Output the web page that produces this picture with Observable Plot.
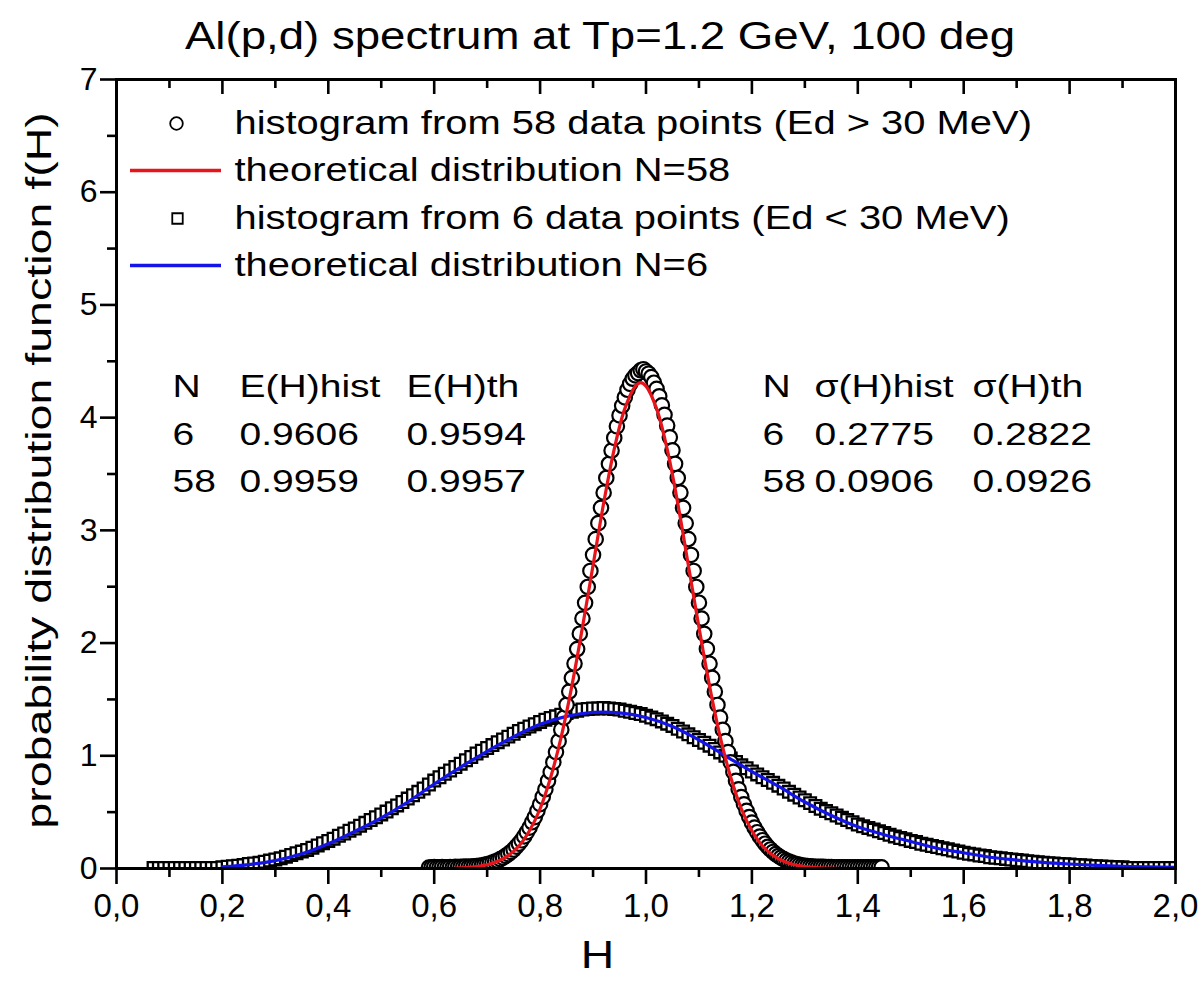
<!DOCTYPE html>
<html>
<head>
<meta charset="utf-8">
<script src="https://cdn.jsdelivr.net/npm/d3@7"></script>
<script src="https://cdn.jsdelivr.net/npm/@observablehq/plot@0.6"></script>
<style>
  html, body { margin: 0; padding: 0; background: #fff; overflow: hidden; }
  #wrap { position: relative; width: 1201px; height: 983px; background: #fff; }
  #title { position: absolute; left: 0; top: 0; width: 1201px; height: 66px; }
  #title span { position: absolute; left: 600px; top: 17px; line-height: 38px; white-space: nowrap;
    font-family: "Liberation Sans", Arial, sans-serif; font-size: 38px; color: #000;
    transform: translateX(-50%) scaleX(1.2); transform-origin: 50% 50%; }
  #chart { position: absolute; left: 0; top: 66px; }
</style>
</head>
<body>
<div id="wrap">
  <div id="title"><span id="titleSpan"></span></div>
  <div id="chart"></div>
</div>
<script>
// ---------- data ----------
// histogram N=58 (circles)
const circH = [0.590,0.595,0.600,0.605,0.610,0.615,0.620,0.625,0.630,0.635,0.640,0.645,0.650,0.655,0.660,0.665,0.670,0.675,0.680,0.685,
0.690,0.695,0.700,0.705,0.710,0.715,0.720,0.725,0.730,0.735,0.740,0.745,0.750,0.755,0.760,0.765,0.770,0.775,0.780,0.785,
0.790,0.795,0.800,0.805,0.810,0.815,0.820,0.825,0.830,0.835,0.840,0.845,0.850,0.855,0.860,0.865,0.870,0.875,0.880,0.885,
0.890,0.895,0.900,0.905,0.910,0.915,0.920,0.925,0.930,0.935,0.940,0.945,0.950,0.955,0.960,0.965,0.970,0.975,0.980,0.985,
0.990,0.995,1.000,1.005,1.010,1.015,1.020,1.025,1.030,1.035,1.040,1.045,1.050,1.055,1.060,1.065,1.070,1.075,1.080,1.085,
1.090,1.095,1.100,1.105,1.110,1.115,1.120,1.125,1.130,1.135,1.140,1.145,1.150,1.155,1.160,1.165,1.170,1.175,1.180,1.185,
1.190,1.195,1.200,1.205,1.210,1.215,1.220,1.225,1.230,1.235,1.240,1.245,1.250,1.255,1.260,1.265,1.270,1.275,1.280,1.285,
1.290,1.295,1.300,1.305,1.310,1.315,1.320,1.325,1.330,1.335,1.340,1.345,1.350,1.355,1.360,1.365,1.370,1.375,1.380,1.385,
1.390,1.395,1.400,1.405,1.410,1.415,1.420,1.425,1.430,1.435,1.440,1.445];
const circF = [0.008,0.01,0.012,0.01,0.01,0.012,0.01,0.01,0.012,0.01,0.015,0.012,0.015,0.015,0.018,0.015,0.018,0.02,0.022,0.024,
0.027,0.032,0.038,0.045,0.052,0.061,0.07,0.083,0.096,0.112,0.128,0.147,0.168,0.194,0.221,0.25,0.285,0.322,0.362,0.41,
0.456,0.512,0.57,0.635,0.703,0.778,0.856,0.943,1.033,1.13,1.232,1.338,1.452,1.57,1.69,1.818,1.947,2.083,2.218,2.357,
2.498,2.64,2.783,2.922,3.064,3.2,3.334,3.465,3.589,3.708,3.82,3.923,4.02,4.105,4.18,4.247,4.3,4.345,4.375,4.395,
4.42,4.43,4.41,4.39,4.36,4.31,4.255,4.19,4.11,4.025,3.93,3.825,3.71,3.59,3.465,3.335,3.2,3.063,2.923,2.782,
2.64,2.498,2.358,2.218,2.082,1.948,1.817,1.691,1.569,1.451,1.339,1.231,1.13,1.033,0.942,0.857,0.777,0.703,0.634,0.57,
0.511,0.457,0.408,0.363,0.322,0.284,0.251,0.22,0.193,0.169,0.147,0.128,0.111,0.096,0.083,0.071,0.061,0.052,0.044,0.038,
0.032,0.027,0.024,0.022,0.02,0.018,0.016,0.015,0.015,0.014,0.013,0.012,0.012,0.011,0.011,0.01,0.01,0.01,0.01,0.01,
0.01,0.01,0.01,0.01,0.01,0.01,0.01,0.01,0.01,0.01,0.01,0.01];

// histogram N=6 (squares)
const sqH = [0.07,0.08,0.09,0.10,0.11,0.12,0.13,0.14,0.15,0.16,0.17,0.18,0.19,
0.20,0.21,0.22,0.23,0.24,0.25,0.26,0.27,0.28,0.29,0.30,0.31,0.32,0.33,0.34,0.35,0.36,0.37,0.38,0.39,
0.40,0.41,0.42,0.43,0.44,0.45,0.46,0.47,0.48,0.49,0.50,0.51,0.52,0.53,0.54,0.55,0.56,0.57,0.58,0.59,
0.60,0.61,0.62,0.63,0.64,0.65,0.66,0.67,0.68,0.69,0.70,0.71,0.72,0.73,0.74,0.75,0.76,0.77,0.78,0.79,
0.80,0.81,0.82,0.83,0.84,0.85,0.86,0.87,0.88,0.89,0.90,0.91,0.92,0.93,0.94,0.95,0.96,0.97,0.98,0.99,
1.00,1.01,1.02,1.03,1.04,1.05,1.06,1.07,1.08,1.09,1.10,1.11,1.12,1.13,1.14,1.15,1.16,1.17,1.18,1.19,
1.20,1.21,1.22,1.23,1.24,1.25,1.26,1.27,1.28,1.29,1.30,1.31,1.32,1.33,1.34,1.35,1.36,1.37,1.38,1.39,
1.40,1.41,1.42,1.43,1.44,1.45,1.46,1.47,1.48,1.49,1.50,1.51,1.52,1.53,1.54,1.55,1.56,1.57,1.58,1.59,
1.60,1.61,1.62,1.63,1.64,1.65,1.66,1.67,1.68,1.69,1.70,1.71,1.72,1.73,1.74,1.75,1.76,1.77,1.78,1.79,
1.80,1.81,1.82,1.83,1.84,1.85,1.86,1.87,1.88,1.89,1.90,1.91,1.92,1.93,1.94,1.95,1.96,1.97,1.98,1.99,2.00];
const sqF = [0.005,0.005,0.005,0.005,0.005,0.005,0.005,0.005,0.005,0.005,0.005,0.005,0.005,
0.01,0.015,0.02,0.025,0.03,0.04,0.045,0.05,0.06,0.07,0.08,0.09,0.105,0.12,0.135,0.15,0.165,0.185,0.205,0.225,
0.245,0.265,0.29,0.31,0.335,0.355,0.38,0.405,0.43,0.455,0.48,0.505,0.535,0.56,0.59,0.62,0.65,0.68,0.71,0.745,
0.78,0.81,0.84,0.87,0.90,0.93,0.96,0.99,1.02,1.045,1.07,1.095,1.12,1.145,1.17,1.195,1.22,1.24,1.26,1.28,
1.30,1.32,1.335,1.35,1.365,1.38,1.39,1.40,1.41,1.415,1.42,1.42,1.425,1.42,1.415,1.41,1.40,1.39,1.38,1.37,
1.355,1.34,1.325,1.305,1.285,1.265,1.24,1.215,1.19,1.165,1.14,1.115,1.09,1.06,1.03,1.00,0.975,0.945,0.915,0.89,
0.86,0.835,0.81,0.785,0.76,0.735,0.71,0.68,0.655,0.63,0.605,0.58,0.555,0.53,0.51,0.49,0.47,0.45,0.43,0.41,
0.39,0.375,0.36,0.345,0.33,0.315,0.30,0.285,0.27,0.26,0.245,0.235,0.22,0.21,0.20,0.19,0.18,0.17,0.16,0.15,
0.14,0.13,0.125,0.115,0.11,0.10,0.095,0.09,0.085,0.08,0.075,0.07,0.065,0.06,0.055,0.05,0.047,0.044,0.041,0.038,
0.035,0.032,0.029,0.026,0.023,0.02,0.018,0.016,0.014,0.012,0.01,0.005,0.005,0.005,0.005,0.005,0.005,0.005,0.005,0.005,0.005];

// theoretical distribution N=58 (red)
const redH = [0.64,0.66,0.68,0.70,0.72,0.74,0.76,0.78,0.80,0.82,0.84,0.86,0.88,0.90,0.92,0.94,0.96,0.98,0.99,1.00,1.02,1.04,1.06,1.08,1.10,1.12,1.14,1.16,1.18,1.20,1.22,1.24,1.26,1.28,1.30,1.32,1.34,1.36];
const redF = [0.004,0.008,0.017,0.033,0.064,0.116,0.20,0.335,0.53,0.81,1.17,1.62,2.14,2.69,3.24,3.72,4.08,4.28,4.31,4.28,4.08,3.72,3.24,2.69,2.14,1.62,1.17,0.81,0.53,0.335,0.20,0.116,0.064,0.033,0.017,0.008,0.004,0.002];

// theoretical distribution N=6 (blue)
const blueH = [0.20,0.25,0.30,0.35,0.40,0.45,0.50,0.55,0.60,0.65,0.70,0.75,0.80,0.85,0.90,0.95,1.00,1.05,1.10,1.15,1.20,1.25,1.30,1.35,1.40,1.45,1.50,1.55,1.60,1.65,1.70,1.75,1.80,1.85,1.90,1.95,2.00];
const blueF = [0.015,0.035,0.07,0.13,0.22,0.33,0.45,0.59,0.75,0.90,1.04,1.17,1.28,1.35,1.385,1.38,1.34,1.26,1.14,1.00,0.86,0.73,0.59,0.47,0.37,0.30,0.24,0.18,0.14,0.10,0.075,0.055,0.04,0.028,0.02,0.014,0.01];

// ticks
const xMajor = [0,0.2,0.4,0.6,0.8,1.0,1.2,1.4,1.6,1.8,2.0];
const xTickLabels = ["0,0","0,2","0,4","0,6","0,8","1,0","1,2","1,4","1,6","1,8","2,0"];
const xMinor = [0.1,0.3,0.5,0.7,0.9,1.1,1.3,1.5,1.7,1.9];
const yMajor = [0,1,2,3,4,5,6,7];
const yMinor = [0.5,1.5,2.5,3.5,4.5,5.5,6.5];

// texts
const titleText = "Al(p,d) spectrum at Tp=1.2 GeV, 100 deg";
const xLabel = "H";
const yLabel = "probability distribution function f(H)";
const legendLabels = [
  "histogram from 58 data points (Ed > 30 MeV)",
  "theoretical distribution N=58",
  "histogram from 6 data points (Ed < 30 MeV)",
  "theoretical distribution N=6"
];
const statsLeft = [["N","E(H)hist","E(H)th"],["6","0.9606","0.9594"],["58","0.9959","0.9957"]];
const statsRight = [["N","\u03c3(H)hist","\u03c3(H)th"],["6","0.2775","0.2822"],["58","0.0906","0.0926"]];

// ---------- build ----------
document.getElementById("titleSpan").textContent = titleText;
const circles = circH.map((h, i) => ({h, f: circF[i]}));
const squares = sqH.map((h, i) => ({h, f: sqF[i]}));
const red = redH.map((h, i) => ({h, f: redF[i]}));
const blue = blueH.map((h, i) => ({h, f: blueF[i]}));

const RED = "#e8141c", BLUE = "#1414e6";
const W = 1201, SVGH = 917, mT = 13, mB = 115, mL = 116, mR = 26;
const FW = W - mL - mR, FH = SVGH - mT - mB;

const legendSymbol = (len) => ({draw(ctx) { ctx.moveTo(-len / 2, 0); ctx.lineTo(len / 2, 0); }});
const legendRowsDy = [44, 91, 139, 186];
const legendSymDx = 60, legendTextDx = 118;
const statRowsDy = [307, 355, 402];
const statColsLeft = [56, 123, 290];
const statColsRight = [646, 698, 856];

const txt = (data, opts, tag) => Plot.text(data, {lineAnchor: "middle", ...opts, ariaDescription: tag});

const marks = [
  Plot.dot(squares, {x: "h", y: "f", symbol: "square", r: 6.6, fill: "white", stroke: "black", strokeWidth: 2.3, clip: true}),
  Plot.dot(circles, {x: "h", y: "f", r: 7.2, fill: "white", stroke: "black", strokeWidth: 2.2, clip: true}),
  Plot.line(blue, {x: "h", y: "f", stroke: BLUE, strokeWidth: 3.2, curve: "catmull-rom", clip: true}),
  Plot.line(red, {x: "h", y: "f", stroke: RED, strokeWidth: 3.2, curve: "catmull-rom", clip: true}),
  Plot.frame({stroke: "black", strokeWidth: 3}),
  // bottom ticks (outward)
  Plot.tickX(xMajor, {x: d => d, insetTop: FH, insetBottom: -16, strokeWidth: 2.6}),
  Plot.tickX(xMinor, {x: d => d, insetTop: FH, insetBottom: -9, strokeWidth: 2.6}),
  // top ticks (inward)
  Plot.tickX(xMajor, {x: d => d, insetBottom: FH - 15, strokeWidth: 2.6}),
  Plot.tickX(xMinor, {x: d => d, insetBottom: FH - 9, strokeWidth: 2.6}),
  // left ticks (outward)
  Plot.tickY(yMajor, {y: d => d, insetLeft: -16, insetRight: FW, strokeWidth: 2.6}),
  Plot.tickY(yMinor, {y: d => d, insetLeft: -9, insetRight: FW, strokeWidth: 2.6}),
  // tick labels
  txt(xMajor, {x: d => d, text: (d, i) => xTickLabels[i], frameAnchor: "bottom", dy: 38, fontSize: 33}, "xtl"),
  txt(yMajor, {y: d => d, text: d => String(d), frameAnchor: "left", dx: -19, textAnchor: "end", fontSize: 32}, "ytl"),
  // axis labels
  txt([xLabel], {frameAnchor: "bottom", dx: 597 - (mL + FW / 2), dy: 889 - (mT + FH), fontSize: 38}, "xlab"),
  txt([yLabel], {frameAnchor: "left", dx: 39 - mL, dy: 404 - (mT + FH / 2), rotate: -90, textAnchor: "middle", fontSize: 35}, "ylab"),
  // legend
  Plot.dot([0], {frameAnchor: "top-left", dx: legendSymDx, dy: legendRowsDy[0], r: 6.3, fill: "white", stroke: "black", strokeWidth: 1.8}),
  Plot.dot([0], {frameAnchor: "top-left", dx: legendSymDx - 1, dy: legendRowsDy[1], symbol: legendSymbol(91), fill: "none", stroke: RED, strokeWidth: 3.6}),
  Plot.dot([0], {frameAnchor: "top-left", dx: legendSymDx + 1, dy: legendRowsDy[2], symbol: "square", r: 5.9, fill: "white", stroke: "black", strokeWidth: 1.8}),
  Plot.dot([0], {frameAnchor: "top-left", dx: legendSymDx - 1, dy: legendRowsDy[3], symbol: legendSymbol(91), fill: "none", stroke: BLUE, strokeWidth: 3.6}),
  ...legendLabels.map((t, i) => txt([t], {frameAnchor: "top-left", dx: legendTextDx, dy: legendRowsDy[i], textAnchor: "start", fontSize: 33}, "legend")),
  // statistics tables
  ...statsLeft.flatMap((row, r) => row.map((t, c) => txt([t], {frameAnchor: "top-left", dx: statColsLeft[c], dy: statRowsDy[r], textAnchor: "start", fontSize: 32}, "stats"))),
  ...statsRight.flatMap((row, r) => row.map((t, c) => txt([t], {frameAnchor: "top-left", dx: statColsRight[c], dy: statRowsDy[r], textAnchor: "start", fontSize: 32}, "stats")))
];

const chart = Plot.plot({
  width: W, height: SVGH,
  marginTop: mT, marginBottom: mB, marginLeft: mL, marginRight: mR,
  x: {domain: [0, 2], axis: null},
  y: {domain: [0, 7], axis: null},
  style: {fontFamily: "'Liberation Sans', Arial, Helvetica, sans-serif", background: "white", color: "black", overflow: "visible"},
  marks
});

// stretch the glyphs along their baseline (the reference's lettering is wide)
const stretch = {xtl: 1.0, ytl: 1.0, xlab: 1.22, ylab: 1.33, legend: 1.21, stats: 1.22};
for (const [tag, s] of Object.entries(stretch)) {
  chart.querySelectorAll(`g[aria-description="${tag}"] text`).forEach(t => {
    const tr = t.getAttribute("transform") || "";
    t.setAttribute("transform", `${tr} scale(${s},1)`);
  });
}
document.getElementById("chart").appendChild(chart);
</script>
</body>
</html>
